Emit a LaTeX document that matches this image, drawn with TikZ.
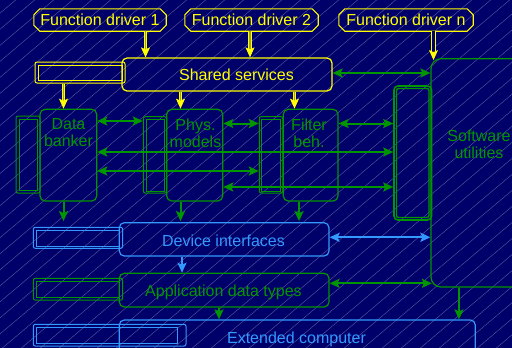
\documentclass[tikz,border=0pt]{standalone}
\usepackage{fontspec}
\setmainfont{Liberation Sans}
\usetikzlibrary{arrows.meta,calc}
\definecolor{navy}{RGB}{0,0,106}
\definecolor{hatchc}{RGB}{185,185,210}
\definecolor{fyellow}{RGB}{255,255,0}
\definecolor{drvfill}{RGB}{160,160,45}
\definecolor{fgreen}{RGB}{0,150,0}
\definecolor{fblue}{RGB}{51,153,255}
\begin{document}
\begin{tikzpicture}[x=1pt,y=-1pt,
  >={Stealth[length=10pt,width=9pt,inset=2pt]},
  txt/.style={font=\fontsize{16}{17}\selectfont, inner sep=0pt, align=center},
  drv/.style={rectangle, text=fyellow, txt, minimum height=22pt},
  drvline/.style={draw=fyellow, line width=1.1pt},
  box/.style={draw, rounded corners=5pt, line width=1.2pt, inner sep=0pt},
  sideo/.style={draw, rounded corners=2pt, line width=1pt, inner sep=0pt},
  sidei/.style={draw, line width=1pt, inner sep=0pt},
  garr/.style={draw=fgreen, line width=2pt},
  barr/.style={draw=fblue, line width=2pt},
  yarr/.style={draw=fyellow, line width=0.9pt, double=drvfill,
    double distance=1.3pt, ->},
  yhol/.style={draw=fyellow, line width=1pt, double=navy,
    double distance=2.6pt, ->},
]
\path[use as bounding box, clip] (0,0) rectangle (512,348);
\fill[navy] (0,0) rectangle (512,348);
% diagonal hatching over the whole sheet
\foreach \i in {-24,...,28}
  \draw[hatchc, line width=0.4pt, opacity=0.5] (\i*19,350) -- ++(417,-352);

% function drivers with chamfered outlines
\node[drv, minimum width=132pt] (fd1) at (100,20) {Function driver 1};
\node[drv, minimum width=133pt] (fd2) at (251.5,20) {Function driver 2};
\node[drv, minimum width=134pt] (fdn) at (406,20) {Function driver n};
\foreach \d in {fd1,fd2,fdn}
  \draw[drvline] ([xshift=6pt]\d.north west) -- ([xshift=-6pt]\d.north east)
    -- ([yshift=-6pt]\d.north east) -- ([yshift=6pt]\d.south east)
    -- ([xshift=-6pt]\d.south east) -- ([xshift=6pt]\d.south west)
    -- ([yshift=6pt]\d.south west) -- ([yshift=-6pt]\d.north west) -- cycle;

% shared services
\node[box, draw=fyellow, minimum width=210pt, minimum height=33pt] (sh) at (227,74.5) {};
\node[txt, text=fyellow, anchor=base] (sht) at (236.5,80) {Shared services};
\node[sideo, draw=fyellow, minimum width=90pt, minimum height=21pt] (ys) at (80,72.5) {};
\node[sidei, draw=fyellow, minimum width=84pt, minimum height=15pt] (ysi) at (80,72.5) {};

% module boxes
\node[sideo, draw=fgreen, minimum width=24pt, minimum height=77pt] (dbs) at (28,154.5) {};
\node[sidei, draw=fgreen, minimum width=18.5pt, minimum height=71.5pt] (dbsi) at (28.25,154.75) {};
\node[box, draw=fgreen, minimum width=56.7pt, minimum height=91.7pt] (db) at (68.35,155.15) {};
\node[txt, text=fgreen] (dbt) at (68.5,133) {Data\\banker};

\node[sideo, draw=fgreen, minimum width=23.2pt, minimum height=76.3pt] (phs) at (154.9,154.85) {};
\node[sidei, draw=fgreen, minimum width=18pt, minimum height=71.7pt] (phsi) at (155,155.15) {};
\node[box, draw=fgreen, minimum width=56pt, minimum height=91.7pt] (ph) at (194.7,155.15) {};
\node[txt, text=fgreen] (pht) at (195.5,133) {Phys.\\models};

\node[sideo, draw=fgreen, minimum width=23.5pt, minimum height=76.5pt] (fbs) at (271,154.75) {};
\node[sidei, draw=fgreen, minimum width=18.3pt, minimum height=72pt] (fbsi) at (270.85,155) {};
\node[box, draw=fgreen, minimum width=54.7pt, minimum height=91.7pt] (fb) at (310.65,155.15) {};
\node[txt, text=fgreen] (fbt) at (309,133) {Filter\\beh.};

% software utilities
\node[box, draw=fgreen, rounded corners=10pt, minimum width=109pt, minimum height=228.3pt] (sw) at (485.5,172.85) {};
\node[txt, text=fgreen] (swt) at (479,144) {Software\\utilities};
\node[sideo, draw=fgreen, line width=1.6pt, rounded corners=4pt, minimum width=37.5pt, minimum height=134pt] (tl) at (412.75,153) {};
\node[sidei, draw=fgreen, line width=1.4pt, rounded corners=2pt, minimum width=32.5pt, minimum height=129pt] (tli) at (412.75,153) {};

% lower layers
\node[sideo, draw=fblue, minimum width=89.4pt, minimum height=21pt] (dis) at (78,237.8) {};
\node[sidei, draw=fblue, minimum width=82.6pt, minimum height=16pt] (disi) at (78,238) {};
\node[box, draw=fblue, minimum width=209.7pt, minimum height=33.3pt] (di) at (224.15,239.35) {};
\node[txt, text=fblue, anchor=base] (dit) at (223.5,246) {Device interfaces};

\node[sideo, draw=fgreen, minimum width=89.4pt, minimum height=21.7pt] (ads) at (78,289.2) {};
\node[sidei, draw=fgreen, minimum width=82.6pt, minimum height=16.7pt] (adsi) at (78,289.35) {};
\node[box, draw=fgreen, minimum width=209.7pt, minimum height=33.7pt] (ad) at (224.15,290.15) {};
\node[txt, text=fgreen, anchor=base] (adt) at (223.5,296.5) {Application data types};

\node[sideo, draw=fblue, minimum width=152.7pt, minimum height=21.7pt] (ecs) at (109.65,335.15) {};
\node[sidei, draw=fblue, minimum width=141pt, minimum height=16pt] (ecsi) at (107.2,335) {};
\node[box, draw=fblue, minimum width=356pt, minimum height=60pt] (ec) at (297.3,350) {};
\node[txt, text=fblue, anchor=base] (ect) at (296.5,343.3) {Extended computer};

% connector rows and columns
\coordinate (r1) at (0,121);
\coordinate (r2) at (0,123.5);
\coordinate (r3) at (0,152);
\coordinate (r4) at (0,171);
\coordinate (r5) at (0,187);
\coordinate (r6) at (0,73);
\coordinate (r7) at (0,237.3);
\coordinate (r8) at (0,283.3);
\coordinate (c1) at (145.5,0);
\coordinate (c2) at (250,0);
\coordinate (c3) at (433.5,0);
\coordinate (c4) at (63.5,0);
\coordinate (c5) at (180.5,0);
\coordinate (c6) at (294.5,0);
\coordinate (c7) at (299,0);
\coordinate (c8) at (182,0);
\coordinate (c9) at (219,0);
\coordinate (c10) at (459,0);

% yellow control flow
\draw[yarr] (c1 |- fd1.south) -- (c1 |- sh.north);
\draw[yarr] (c2 |- fd2.south) -- (c2 |- sh.north);
\draw[yhol] (c3 |- fdn.south) -- ([yshift=-2pt]c3 |- sw.north);
\draw[yarr] (c4 |- ys.south) -- (c4 |- db.north);
\draw[yarr] (c5 |- sh.south) -- (c5 |- ph.north);
\draw[yarr] (c6 |- sh.south) -- (c6 |- fb.north);

% links between modules
\draw[garr,<->] (db.east |- r1) -- (phs.west |- r1);
\draw[garr,<->] (ph.east |- r2) -- (fbs.west |- r2);
\draw[garr,<->] (fb.east |- r2) -- (tl.west |- r2);
\draw[garr,<->] (db.east |- r3) -- (tl.west |- r3);
\draw[garr,<->] (db.east |- r4) -- (fbs.west |- r4);
\draw[garr,<->] (ph.east |- r5) -- (tl.west |- r5);
\draw[garr,<->] (sh.east |- r6) -- (sw.west |- r6);
\draw[barr,<->] (di.east |- r7) -- (sw.west |- r7);
\draw[garr,<->] (ad.east |- r8) -- ([xshift=1.5pt]sw.west |- r8);

% downward dependencies
\draw[garr,->] (c4 |- db.south) -- ([yshift=1pt]c4 |- di.north);
\draw[garr,->] (c5 |- ph.south) -- ([yshift=1pt]c5 |- di.north);
\draw[garr,->] (c7 |- fb.south) -- ([yshift=1pt]c7 |- di.north);
\draw[barr,->] (c8 |- di.south) -- (c8 |- ad.north);
\draw[garr,->] (c9 |- ad.south) -- (c9 |- ec.north);
\draw[garr,->] (c10 |- sw.south) -- (c10 |- ec.north);
\end{tikzpicture}
\end{document}
